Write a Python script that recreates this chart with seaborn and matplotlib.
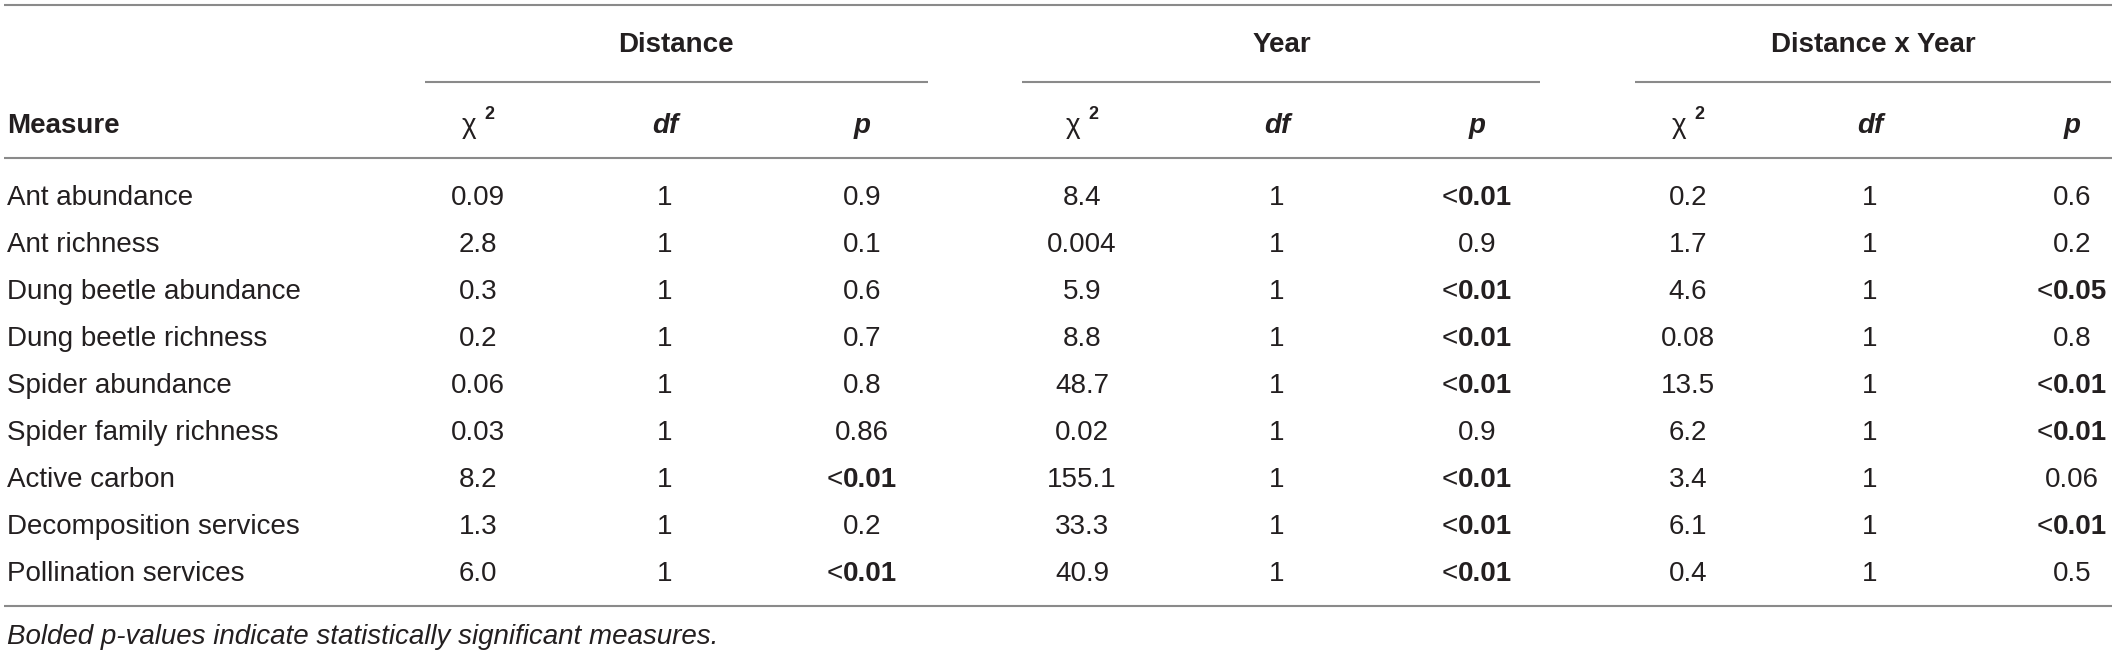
import matplotlib
matplotlib.use("Agg")
import matplotlib.pyplot as plt
import seaborn as sns

# table content
measures = ["Ant abundance", "Ant richness", "Dung beetle abundance", "Dung beetle richness",
            "Spider abundance", "Spider family richness", "Active carbon",
            "Decomposition services", "Pollination services"]
groups = ["Distance", "Year", "Distance x Year"]

dist_chi = ["0.09", "2.8", "0.3", "0.2", "0.06", "0.03", "8.2", "1.3", "6.0"]
dist_df = ["1"] * 9
dist_p = ["0.9", "0.1", "0.6", "0.7", "0.8", "0.86", "<0.01", "0.2", "<0.01"]

year_chi = ["8.4", "0.004", "5.9", "8.8", "48.7", "0.02", "155.1", "33.3", "40.9"]
year_df = ["1"] * 9
year_p = ["<0.01", "0.9", "<0.01", "<0.01", "<0.01", "0.9", "<0.01", "<0.01", "<0.01"]

dxy_chi = ["0.2", "1.7", "4.6", "0.08", "13.5", "6.2", "3.4", "6.1", "0.4"]
dxy_df = ["1"] * 9
dxy_p = ["0.6", "0.2", "<0.05", "0.8", "<0.01", "<0.01", "0.06", "<0.01", "0.5"]

footnote = "Bolded p-values indicate statistically significant measures."

sns.set_theme(style="white")
plt.rcParams["font.family"] = ["Liberation Sans", "DejaVu Sans"]

W, H = 2118, 657
fig = plt.figure(figsize=(W / 100, H / 100), dpi=100)
ax = fig.add_axes([0, 0, 1, 1])
ax.set_xlim(0, W)
ax.set_ylim(H, 0)
ax.axis("off")
renderer = fig.canvas.get_renderer()

ink = "#231f20"
rule = "#8a8a8a"
fs = 20

# column centres (pixels) and group spans
col_x = [[478, 665, 862], [1082, 1277, 1477], [1688, 1870, 2072]]
spans = [(425, 928), (1022, 1540), (1635, 2111)]
title_x = [676, 1282, 1873]

# rules
ax.hlines([5, 158, 606], 4, 2112, color=rule, lw=1.5)
for a, b in spans:
    ax.hlines(82, a, b, color=rule, lw=1.5)

# group titles
for g, x in zip(groups, title_x):
    ax.text(x, 52, g, ha="center", va="baseline", fontsize=fs, fontweight="bold", color=ink)

# sub headers
ax.text(7, 133, "Measure", ha="left", va="baseline", fontsize=fs, fontweight="bold", color=ink)
for cols in col_x:
    ax.text(cols[0] - 2, 133, "χ", ha="right", va="baseline", fontsize=fs, color=ink)
    ax.text(cols[0] + 6, 119, "2", ha="left", va="baseline", fontsize=13, fontweight="bold", color=ink)
    ax.text(cols[1], 133, "df", ha="center", va="baseline", fontsize=fs,
            fontweight="bold", fontstyle="italic", color=ink)
    ax.text(cols[2], 133, "p", ha="center", va="baseline", fontsize=fs,
            fontweight="bold", fontstyle="italic", color=ink)


def width_px(t):
    return t.get_window_extent(renderer=renderer).width


# body
series = [(dist_chi, dist_df, dist_p), (year_chi, year_df, year_p), (dxy_chi, dxy_df, dxy_p)]
for i, m in enumerate(measures):
    y = 205 + 47 * i
    ax.text(7, y, m, ha="left", va="baseline", fontsize=fs, color=ink)
    for cols, (chi, df, p) in zip(col_x, series):
        ax.text(cols[0], y, chi[i], ha="center", va="baseline", fontsize=fs, color=ink)
        ax.text(cols[1], y, df[i], ha="center", va="baseline", fontsize=fs, color=ink)
        if p[i].startswith("<"):
            # "<" regular, number bold, set tight together
            lt = ax.text(0, y, "<", ha="left", va="baseline", fontsize=fs, color=ink)
            num = ax.text(0, y, p[i][1:], ha="left", va="baseline", fontsize=fs,
                          fontweight="bold", color=ink)
            wl, wn = width_px(lt), width_px(num)
            left = cols[2] - (wl + wn) / 2
            lt.set_x(left)
            num.set_x(left + wl)
        else:
            ax.text(cols[2], y, p[i], ha="center", va="baseline", fontsize=fs, color=ink)

ax.text(7, 644, footnote, ha="left", va="baseline", fontsize=fs, fontstyle="italic", color=ink)

fig.savefig("out.png", dpi=100)
